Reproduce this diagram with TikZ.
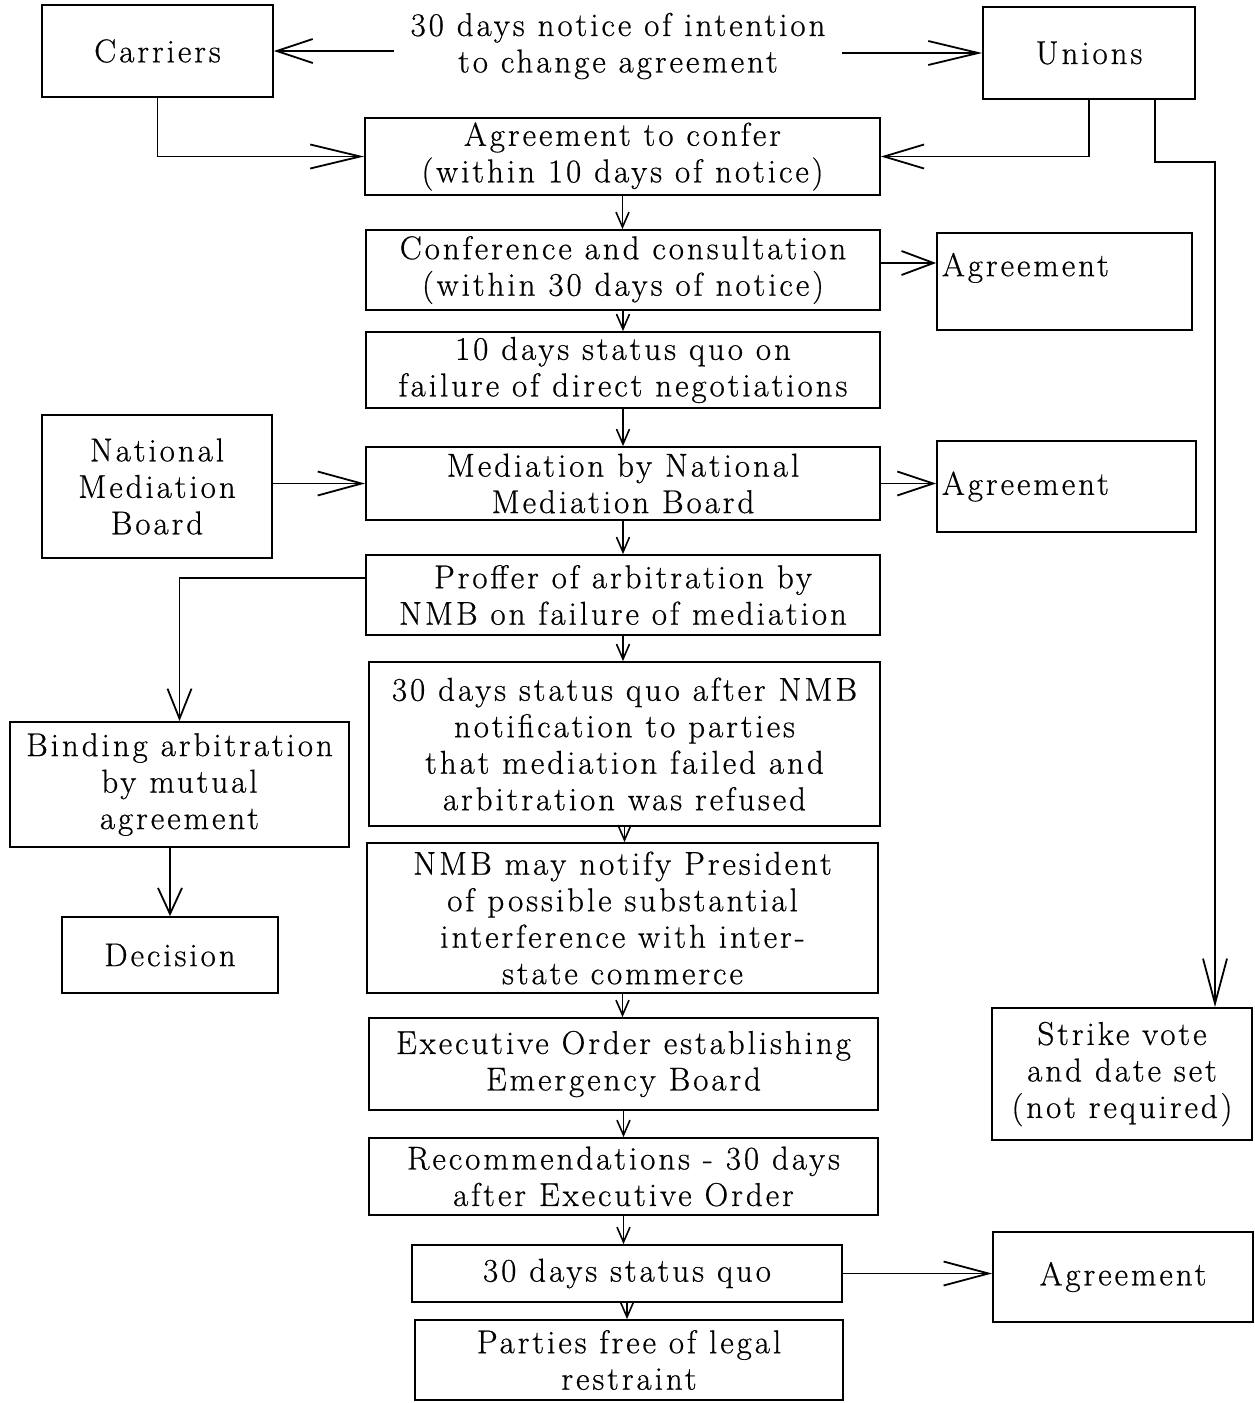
\documentclass[tikz,border=0pt]{standalone}
\usepackage{fontspec}
\setmainfont{Latin Modern Roman}[LetterSpace=9,FakeBold=0.6]
\usetikzlibrary{arrows.meta}

\tikzset{
  box/.style={draw, line width=1.8pt, inner sep=0pt, align=center,
    font=\fontsize{33}{36.5}\selectfont},
  plain/.style={inner sep=0pt, align=center, font=\fontsize{33}{36.5}\selectfont},
  down/.style={line width=1.6pt, -{Straight Barb[length=15pt,width=13pt]}},
  feed/.style={line width=1.8pt, -{Straight Barb[length=#1,width=24pt]}},
  feed/.default=40pt
}

\begin{document}
\begin{tikzpicture}[x=1pt,y=1pt,yscale=-1,xscale=1]
        \useasboundingbox (0,0) rectangle (1255,1403);

        % Top row
        \node [box, minimum width=231pt, minimum height=92pt] (carriers) at (157.5,51) {Carriers};
        \node [box, minimum width=212pt, minimum height=92pt] (unions) at (1089,53) {Unions};
        \node [plain, inner xsep=16pt] (notice) at (618,46) {30 days notice of intention\\to change agreement};

        %Shape: central column
        \node [box, minimum width=515pt, minimum height=77pt] (confer) at (622.5,156.5) {Agreement to confer\\(within 10 days of notice)};
        \node [box, minimum width=514pt, minimum height=80pt] (consult) at (623,270) {Conference and consultation\\(within 30 days of notice)};
        \node [box, minimum width=514pt, minimum height=76pt] (quoten) at (623,370) {10 days status quo on\\failure of direct negotiations};
        \node [box, minimum width=514pt, minimum height=73pt] (mediate) at (623,483.5) {Mediation by National\\Mediation Board};
        \node [box, minimum width=514pt, minimum height=80pt] (proffer) at (623,595) {Proffer of arbitration by\\NMB on failure of mediation};
        \node [box, minimum width=511pt, minimum height=164pt] (quothirty) at (624.5,744) {30 days status quo after NMB\\notification to parties\\that mediation failed and\\arbitration was refused};
        \node [box, minimum width=511pt, minimum height=150pt] (notify) at (622.5,918) {NMB may notify President\\of possible substantial\\interference with inter-\\state commerce};
        \node [box, minimum width=509pt, minimum height=92pt] (order) at (623.5,1064) {Executive Order establishing\\Emergency Board};
        \node [box, minimum width=509pt, minimum height=77pt] (recs) at (623.5,1176.5) {Recommendations - 30 days\\after Executive Order};
        \node [box, minimum width=430pt, minimum height=57pt] (quolast) at (627,1273.5) {30 days status quo};
        \node [box, minimum width=428pt, minimum height=80pt] (free) at (629,1360) {Parties free of legal\\restraint};

        %Shape: left column
        \node [box, minimum width=230pt, minimum height=143pt] (board) at (157,486.5) {National\\Mediation\\Board};
        \node [box, minimum width=339pt, minimum height=125pt] (binding) at (179.5,784.5) {Binding arbitration\\by mutual\\agreement};
        \node [box, minimum width=216pt, minimum height=76pt] (decision) at (170,955) {Decision};

        %Shape: right column
        \node [box, minimum width=255pt, minimum height=97pt, text width=245pt, align=left, text depth=34pt] (agreeone) at (1064.5,281.5) {Agreement};
        \node [box, minimum width=259pt, minimum height=91pt, text width=249pt, align=left] (agreetwo) at (1066.5,486.5) {Agreement};
        \node [box, minimum width=260pt, minimum height=132pt] (strike) at (1122,1074) {Strike vote\\and date set\\(not required)};
        \node [box, minimum width=260pt, minimum height=90pt] (agreethree) at (1123,1277) {Agreement};

        \coordinate (bend) at (1215,162);

        % Connectors
        \draw [feed=36pt] (notice.west |- carriers.east) -- (carriers.east);
        \draw [feed=50pt] (notice.east |- unions.west) -- (unions.west);
        \draw [feed=50pt] (carriers.south) |- (confer.west);
        \draw [feed] (unions.south) |- (confer.east);
        \draw [feed=45pt] ([xshift=66pt]unions.south) |- (bend) -- (bend |- strike.north);
        \draw [feed=32pt] ([yshift=-7pt]consult.east) -- ([yshift=-7pt]consult.east -| agreeone.west);
        \draw [feed=44pt] (board.east |- mediate.east) -- (mediate.west);
        \draw [feed=36pt] (mediate.east) -- (mediate.east -| agreetwo.west);
        \draw [feed=30pt] ([yshift=-17pt]proffer.west) -| (binding.north);
        \draw [feed=26pt] (binding.south -| decision.north) -- (decision.north);
        \draw [feed=45pt] (quolast.east) -- (quolast.east -| agreethree.west);

        \foreach \from/\to in {confer/consult, consult/quoten, quoten/mediate, mediate/proffer,
                               proffer/quothirty, quothirty/notify, notify/order, order/recs,
                               recs/quolast, quolast/free}
          \draw [down] (\from.south) -- (\from.south |- \to.north);

\end{tikzpicture}
\end{document}
